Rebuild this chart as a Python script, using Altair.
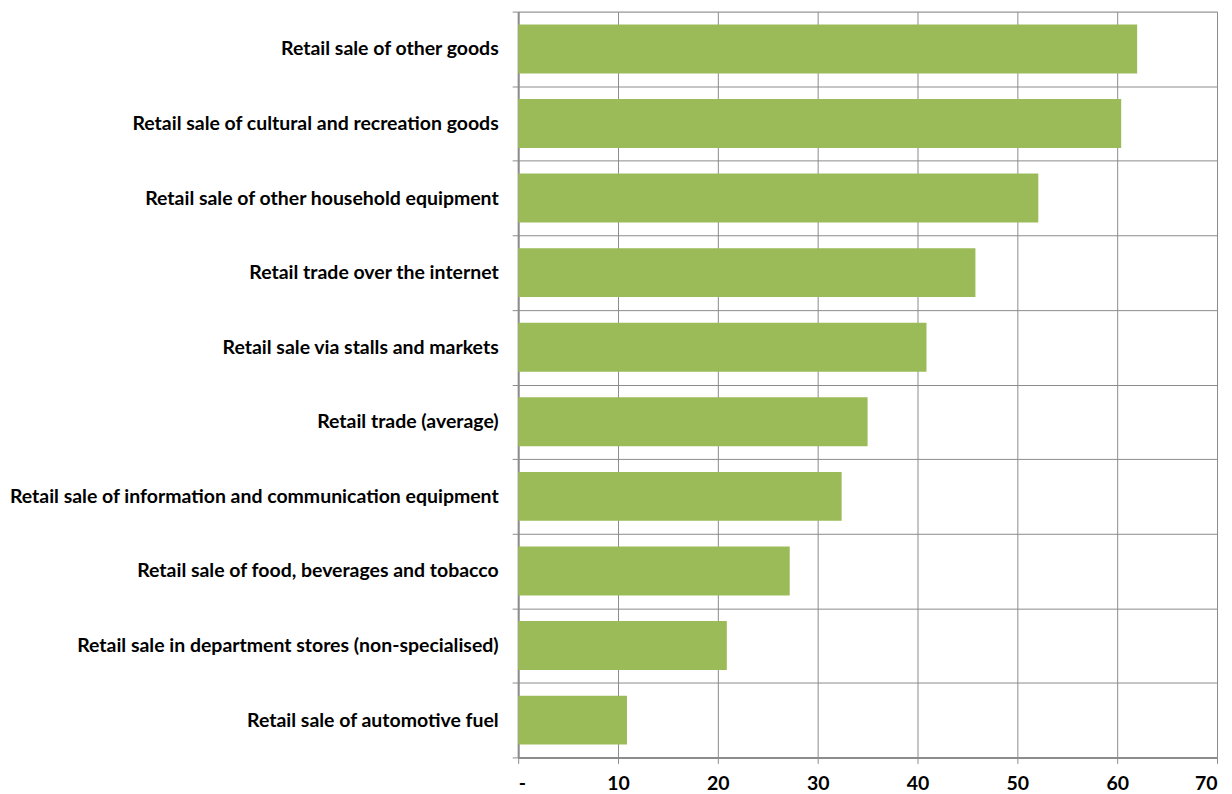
import altair as alt
import pandas as pd

categories = [
    "Retail sale of other goods",
    "Retail sale of cultural and recreation goods",
    "Retail sale of other household equipment",
    "Retail trade over the internet",
    "Retail sale via stalls and markets ",
    "Retail trade (average)",
    "Retail sale of information and communication equipment",
    "Retail sale of food, beverages and tobacco",
    "Retail sale in department stores (non-specialised)",
    "Retail sale of automotive fuel",
]
values = [62.0, 60.4, 52.1, 45.8, 40.9, 35.0, 32.4, 27.2, 20.9, 10.9]
x_ticks = [0, 10, 20, 30, 40, 50, 60, 70]

df = pd.DataFrame({"category": categories, "value": values})

FONT = "Lato"
GRID = "#8c8c8c"

chart = (
    alt.Chart(df)
    .mark_bar(color="#9BBB59", size=49)
    .encode(
        y=alt.Y(
            "category:N",
            sort=categories,
            title=None,
            scale=alt.Scale(paddingInner=0, paddingOuter=0),
            axis=alt.Axis(
                tickBand="extent",
                grid=True,
                gridColor=GRID,
                gridWidth=1,
                domainColor=GRID,
                domainWidth=2,
                tickColor=GRID,
                tickSize=6,
                tickWidth=1,
                labelFont=FONT,
                labelFontWeight="bold",
                labelFontSize=19.5,
                labelColor="#000000",
                labelPadding=14,
                labelLimit=0,
            ),
        ),
        x=alt.X(
            "value:Q",
            title=None,
            scale=alt.Scale(domain=[0, 70], nice=False),
            axis=alt.Axis(
                values=x_ticks,
                labelExpr="datum.value == 0 ? '-' : datum.label",
                grid=True,
                gridColor=GRID,
                gridWidth=1,
                domainColor=GRID,
                domainWidth=2,
                tickColor=GRID,
                tickSize=6,
                labelFont=FONT,
                labelFontWeight="bold",
                labelFontSize=19.5,
                labelColor="#000000",
                labelPadding=11,
            ),
        ),
    )
    .properties(
        width=700,
        height=747,
        padding={"left": 8, "top": 1, "right": 14, "bottom": 0},
    )
    .configure_view(stroke=GRID, strokeWidth=1.5)
    .configure(background="white")
)

chart.save("out.html", embed_options={"renderer": "svg", "actions": False})
